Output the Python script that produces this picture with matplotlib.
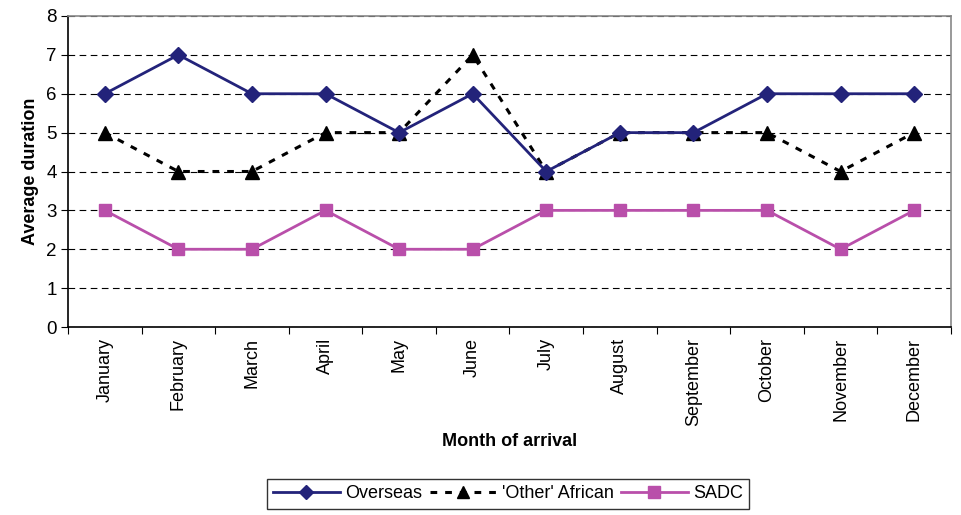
import matplotlib
matplotlib.use("Agg")
import matplotlib.pyplot as plt
from matplotlib.lines import Line2D

months = ["January", "February", "March", "April", "May", "June", "July",
          "August", "September", "October", "November", "December"]
overseas = [6, 7, 6, 6, 5, 6, 4, 5, 5, 6, 6, 6]
other_african = [5, 4, 4, 5, 5, 7, 4, 5, 5, 5, 4, 5]
sadc = [3, 2, 2, 3, 2, 2, 3, 3, 3, 3, 2, 3]

plt.rcParams['font.family'] = ['Liberation Sans', 'DejaVu Sans']

fig = plt.figure(figsize=(9.62, 5.15), dpi=100)
ax = fig.add_axes([68/962, 1-327/515, (951-68)/962, (327-16)/515])

x = list(range(len(months)))
navy = "#23237A"
pink = "#B94FAA"
ax.plot(x, overseas, color=navy, lw=2, marker="D", ms=8, mfc=navy, mec=navy, zorder=4)
ax.plot(x, other_african, color="black", lw=2.2, ls=(0, (2.2, 2.6)), marker="^", ms=10,
        mfc="black", mec="black", zorder=3)
ax.plot(x, sadc, color=pink, lw=2, marker="s", ms=9, mfc=pink, mec=pink, zorder=5)

ax.set_xlim(-0.5, 11.5)
ax.set_ylim(0, 8)
ax.set_yticks(range(0, 9))
ax.yaxis.grid(True, color="black", ls=(0, (6, 4)), lw=0.8)
ax.set_axisbelow(True)

ax.set_xticks([i + 0.5 for i in range(-1, 12)])
ax.set_xticklabels([])
ax.set_xticks(x, minor=True)
ax.set_xticklabels(months, minor=True, rotation=90, fontsize=13)
ax.tick_params(axis="x", which="minor", length=0, pad=8)
ax.tick_params(axis="x", which="major", length=5, direction="out", color="black")
ax.tick_params(axis="y", length=5, direction="out", labelsize=13.5, pad=3)

for s in ["top", "right"]:
    ax.spines[s].set_color("#888888")
    ax.spines[s].set_linewidth(1.2)
for s in ["left", "bottom"]:
    ax.spines[s].set_color("black")
    ax.spines[s].set_linewidth(1.2)

ax.set_ylabel("Average duration", fontsize=13, fontweight="bold", labelpad=5)
ax.set_xlabel("Month of arrival", fontsize=13, fontweight="bold", labelpad=5)

handles = [
    Line2D([], [], color=navy, lw=2, marker="D", ms=7, mfc=navy, mec=navy),
    Line2D([], [], color="black", lw=2.2, ls=(0, (2.2, 2.6)), marker="^", ms=9, mfc="black"),
    Line2D([], [], color=pink, lw=2, marker="s", ms=8, mfc=pink, mec=pink),
]
leg = fig.legend(handles, ["Overseas", "'Other' African", "SADC"], loc="center",
                 bbox_to_anchor=(508/962, 1-494/515), ncol=3, frameon=True,
                 fancybox=False, edgecolor="black", fontsize=13, handlelength=3.7,
                 columnspacing=0.4, handletextpad=0.3, borderpad=0.35)
leg.get_frame().set_linewidth(1.0)

fig.savefig("out.png", dpi=100)
